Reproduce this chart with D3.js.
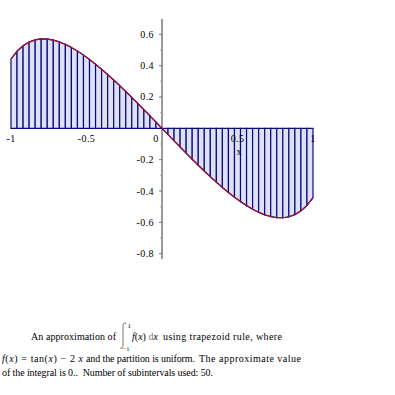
<!DOCTYPE html>
<html>
<head>
<meta charset="utf-8">
<script src="https://cdn.jsdelivr.net/npm/d3@7"></script>
<style>
  body { margin: 0; background: #fff; }
  text { font-family: "Liberation Serif", "DejaVu Serif", serif; fill: #000; white-space: pre; }
</style>
</head>
<body>
<div id="chart"></div>
<script>
// Partition points (50 subintervals on [-1, 1])
const xs = [-1.00, -0.96, -0.92, -0.88, -0.84, -0.80, -0.76, -0.72, -0.68, -0.64,
            -0.60, -0.56, -0.52, -0.48, -0.44, -0.40, -0.36, -0.32, -0.28, -0.24,
            -0.20, -0.16, -0.12, -0.08, -0.04, 0.00, 0.04, 0.08, 0.12, 0.16,
            0.20, 0.24, 0.28, 0.32, 0.36, 0.40, 0.44, 0.48, 0.52, 0.56,
            0.60, 0.64, 0.68, 0.72, 0.76, 0.80, 0.84, 0.88, 0.92, 0.96, 1.00];
// f(x) read at each partition point
const fs = [0.4426, 0.4916, 0.5267, 0.5503, 0.5644, 0.5704, 0.5696, 0.5630, 0.5514, 0.5355,
            0.5159, 0.4930, 0.4673, 0.4393, 0.4092, 0.3772, 0.3436, 0.3086, 0.2725, 0.2353,
            0.1973, 0.1586, 0.1194, 0.0798, 0.0400, 0.0000, -0.0400, -0.0798, -0.1194, -0.1586,
            -0.1973, -0.2353, -0.2725, -0.3086, -0.3436, -0.3772, -0.4092, -0.4393, -0.4673, -0.4930,
            -0.5159, -0.5355, -0.5514, -0.5630, -0.5696, -0.5704, -0.5644, -0.5503, -0.5267, -0.4916, -0.4426];

const xTickVals = [-1, -0.5, 0, 0.5, 1];
const xTickLabels = ["-1", "-0.5", "0", "0.5", "1"];
const yTickVals = [-0.8, -0.6, -0.4, -0.2, 0.2, 0.4, 0.6];
const yMinorVals = [-0.7, -0.5, -0.3, -0.1, 0.1, 0.3, 0.5];

const width = 395, height = 395;
const svg = d3.select("#chart").append("svg")
    .attr("width", width)
    .attr("height", height);

const x = d3.scaleLinear().domain([-1, 1]).range([11, 313]);
const y = d3.scaleLinear().domain([-0.8, 0.6]).range([253.7, 34.3]);

const pts = xs.map((v, i) => [v, fs[i]]);

// trapezoids
const traps = d3.pairs(pts);
svg.append("g")
  .selectAll("path")
  .data(traps)
  .join("path")
    .attr("d", ([a, b]) => d3.line()([
      [x(a[0]), y(0)], [x(a[0]), y(a[1])], [x(b[0]), y(b[1])], [x(b[0]), y(0)]
    ]) + "Z")
    .attr("fill", "#dde1f3")
    .attr("stroke", "#0a0a80")
    .attr("stroke-width", 1.2);

// the curve
svg.append("path")
  .datum(pts)
  .attr("d", d3.line().x(d => x(d[0])).y(d => y(d[1])).curve(d3.curveMonotoneX))
  .attr("fill", "none")
  .attr("stroke", "#a5122e")
  .attr("stroke-width", 1.2);

// y axis
const yAxis = svg.append("g").attr("transform", `translate(${x(0)},0)`);
yAxis.append("line")
  .attr("y1", 19).attr("y2", 259)
  .attr("stroke", "#333").attr("stroke-width", 1);
yAxis.selectAll(".maj")
  .data(yTickVals)
  .join("line")
    .attr("x1", -3).attr("x2", 0)
    .attr("y1", d => y(d)).attr("y2", d => y(d))
    .attr("stroke", "#777");
yAxis.selectAll(".minr")
  .data(yMinorVals)
  .join("line")
    .attr("x1", -2).attr("x2", 0)
    .attr("y1", d => y(d)).attr("y2", d => y(d))
    .attr("stroke", "#aaa");
yAxis.selectAll("text")
  .data(yTickVals)
  .join("text")
    .attr("x", -8)
    .attr("y", d => y(d) + 3.5)
    .attr("text-anchor", "end")
    .style("font-size", "10px")
    .style("letter-spacing", "0.4px")
    .text(d => d3.format(".1f")(d).replace("−", "-"));

// x axis labels
svg.append("g")
  .selectAll("text")
  .data(xTickVals)
  .join("text")
    .attr("x", (d, i) => d === 0 ? x(d) - 6 : x(d))
    .attr("y", 142)
    .attr("text-anchor", "middle")
    .style("font-size", "10px")
    .style("letter-spacing", "0.4px")
    .text((d, i) => xTickLabels[i]);

svg.append("text")
  .attr("x", 239).attr("y", 155)
  .attr("text-anchor", "middle")
  .style("font-size", "10px")
  .text("x");

// caption
const cap = svg.append("g").style("font-size", "10px");
cap.append("text").attr("x", 31).attr("y", 340)
  .attr("textLength", 85).attr("lengthAdjust", "spacing")
  .text("An approximation of");
// integral sign
cap.append("path")
  .attr("d", "M126,323.5 Q123,322 123,326 L123,345 Q123,349 120,348")
  .attr("fill", "none")
  .attr("stroke", "#777")
  .attr("stroke-width", 1);
cap.append("text").attr("x", 127.5).attr("y", 328).style("font-size", "7px").text("1");
cap.append("text").attr("x", 122.5).attr("y", 351).style("font-size", "6.5px").text("−1");
const l1 = cap.append("text").attr("x", 132).attr("y", 340);
l1.append("tspan").style("font-style", "italic").text("f");
l1.append("tspan").text("(");
l1.append("tspan").style("font-style", "italic").text("x");
l1.append("tspan").text(") ");
l1.append("tspan").style("fill", "#777").text("d");
l1.append("tspan").style("font-style", "italic").text("x");
cap.append("text").attr("x", 163).attr("y", 340)
  .attr("textLength", 119).attr("lengthAdjust", "spacing")
  .text("using trapezoid rule, where");

const l2 = cap.append("text").attr("x", 2).attr("y", 362)
  .attr("textLength", 81).attr("lengthAdjust", "spacing");
l2.append("tspan").style("font-style", "italic").text("f");
l2.append("tspan").text("(");
l2.append("tspan").style("font-style", "italic").text("x");
l2.append("tspan").text(") = tan(");
l2.append("tspan").style("font-style", "italic").text("x");
l2.append("tspan").text(") − 2 ");
l2.append("tspan").style("font-style", "italic").text("x");
cap.append("text").attr("x", 86).attr("y", 362)
  .attr("textLength", 109).attr("lengthAdjust", "spacing")
  .text("and the partition is uniform.");
cap.append("text").attr("x", 199).attr("y", 362)
  .attr("textLength", 102).attr("lengthAdjust", "spacing")
  .text("The approximate value");

cap.append("text").attr("x", 2).attr("y", 376)
  .attr("textLength", 211).attr("lengthAdjust", "spacing")
  .text("of the integral is 0..  Number of subintervals used: 50.");
</script>
</body>
</html>
